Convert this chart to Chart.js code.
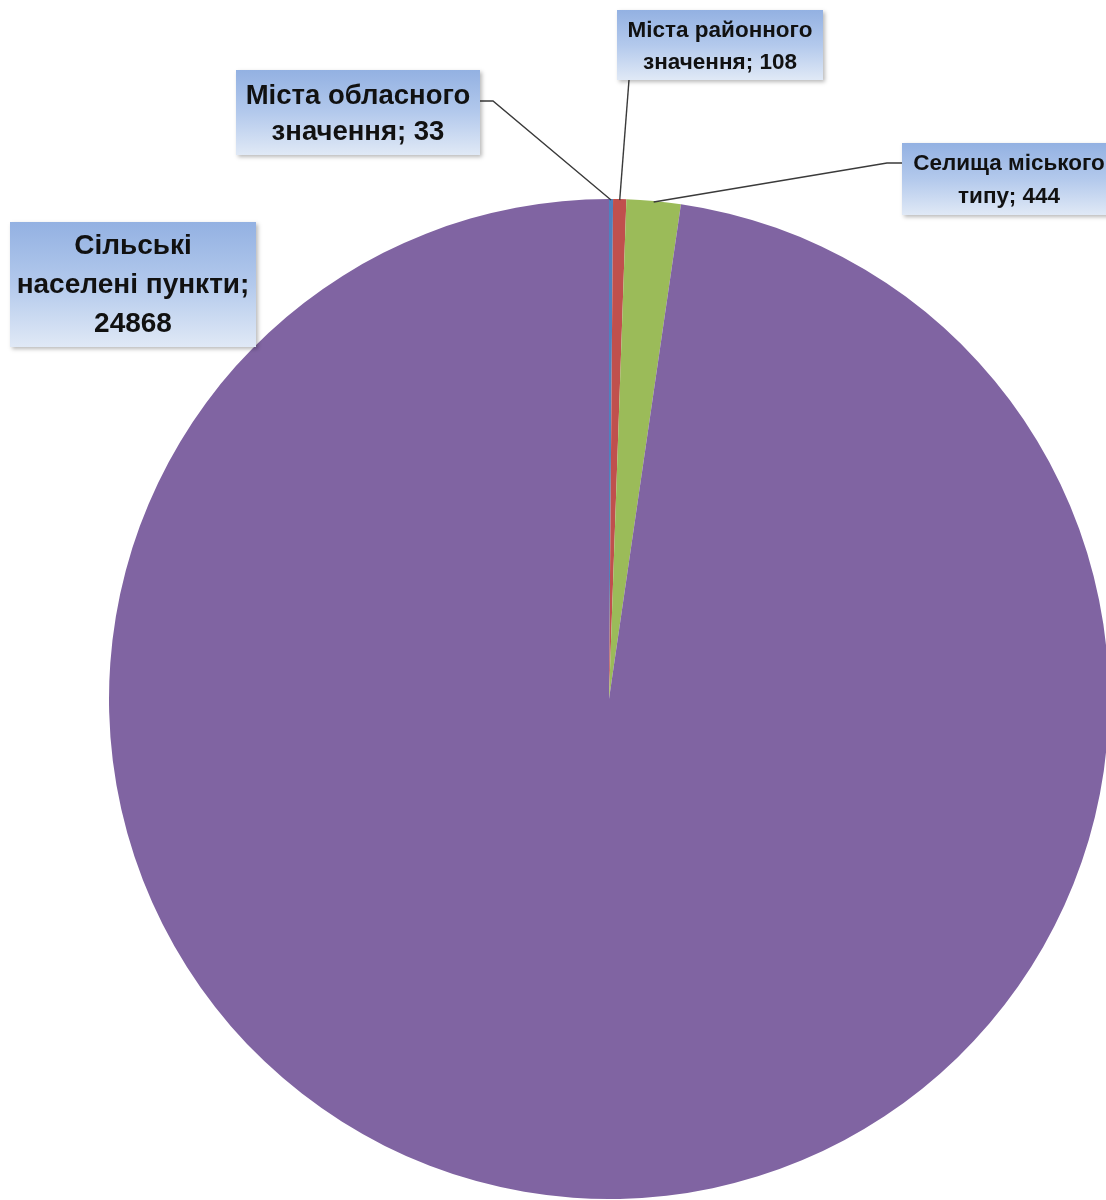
<!DOCTYPE html>
<html>
<head>
<meta charset="utf-8">
<script src="https://cdn.jsdelivr.net/npm/chart.js@4.4.1/dist/chart.umd.min.js"></script>
<style>
  html, body { margin: 0; padding: 0; background: #ffffff; overflow: hidden; }
  #wrap { position: absolute; left: 0; top: 0; width: 1120px; height: 1200px; }
</style>
</head>
<body>
<div id="wrap"><canvas id="c" width="1120" height="1200"></canvas></div>
<script>
// ---- Data ----
const categories = [
  ["Міста обласного", "значення"],
  ["Міста районного", "значення"],
  ["Селища міського", "типу"],
  ["Сільські", "населені пункти"]
];
const values = [33, 108, 444, 24868];
const colors = ["#4F81BD", "#C0504D", "#9BBB59", "#8064A2"];

// ---- Label layout (positions / styles only) ----
const labelLayout = [
  { x: 236, y: 70, w: 244, h: 85, font: 27.5, lineH: 36, dy: 2, valueOwnLine: false,
    leader: [[480, 101], [493, 101]] },
  { x: 617, y: 10, w: 206, h: 70, font: 22.5, lineH: 32, dy: 2, valueOwnLine: false,
    leader: [[629, 80]] },
  { x: 902, y: 143, w: 214, h: 72, font: 22.5, lineH: 33, dy: 1, valueOwnLine: false,
    leader: [[902, 163], [887, 163]] },
  { x: 10, y: 222, w: 246, h: 125, font: 28, lineH: 39, dy: 1, valueOwnLine: true,
    leader: null }
];

const labelPlugin = {
  id: 'calloutLabels',
  afterDatasetsDraw(chart) {
    const ctx = chart.ctx;
    const meta = chart.getDatasetMeta(0);
    meta.data.forEach((arc, i) => {
      const L = labelLayout[i];
      const p = arc.getProps(['x', 'y', 'startAngle', 'endAngle', 'outerRadius'], true);
      const mid = (p.startAngle + p.endAngle) / 2;
      const ax = p.x + Math.cos(mid) * (p.outerRadius - 1);
      const ay = p.y + Math.sin(mid) * (p.outerRadius - 1);
      // leader line
      if (L.leader) {
        ctx.save();
        ctx.strokeStyle = '#3a3a3a';
        ctx.lineWidth = 1.4;
        ctx.beginPath();
        ctx.moveTo(L.leader[0][0], L.leader[0][1]);
        for (let k = 1; k < L.leader.length; k++) ctx.lineTo(L.leader[k][0], L.leader[k][1]);
        ctx.lineTo(ax, ay);
        ctx.stroke();
        ctx.restore();
      }
      // box
      ctx.save();
      ctx.shadowColor = 'rgba(0,0,0,0.28)';
      ctx.shadowBlur = 4;
      ctx.shadowOffsetX = 2;
      ctx.shadowOffsetY = 2;
      const g = ctx.createLinearGradient(0, L.y, 0, L.y + L.h);
      g.addColorStop(0, '#93B1E2');
      g.addColorStop(0.5, '#B3C9EC');
      g.addColorStop(1, '#E0E9F6');
      ctx.fillStyle = g;
      ctx.fillRect(L.x, L.y, L.w + (i === 2 ? 10 : 0), L.h);
      ctx.restore();
      // text
      const name = chart.data.labels[i];
      const val = chart.data.datasets[0].data[i];
      let lines = name.slice();
      if (L.valueOwnLine) {
        lines[lines.length - 1] += ';';
        lines.push(String(val));
      } else {
        lines[lines.length - 1] += '; ' + val;
      }
      ctx.save();
      ctx.fillStyle = '#111111';
      ctx.font = 'bold ' + L.font + 'px "Liberation Sans", Arial, sans-serif';
      ctx.textAlign = 'center';
      ctx.textBaseline = 'middle';
      const cx = L.x + L.w / 2;
      const total = lines.length * L.lineH;
      const top = L.y + (L.h - total) / 2 + L.lineH / 2 + L.dy;
      lines.forEach((t, k) => ctx.fillText(t, cx, top + k * L.lineH));
      ctx.restore();
    });
  }
};

new Chart(document.getElementById('c'), {
  type: 'pie',
  data: {
    labels: categories,
    datasets: [{
      data: values,
      backgroundColor: colors,
      borderWidth: 0
    }]
  },
  options: {
    responsive: false,
    animation: false,
    devicePixelRatio: 1,
    layout: { padding: { left: 109, right: 11, top: 199, bottom: 1 } },
    plugins: {
      legend: { display: false },
      tooltip: { enabled: false },
      title: { display: false }
    }
  },
  plugins: [labelPlugin]
});
</script>
</body>
</html>
